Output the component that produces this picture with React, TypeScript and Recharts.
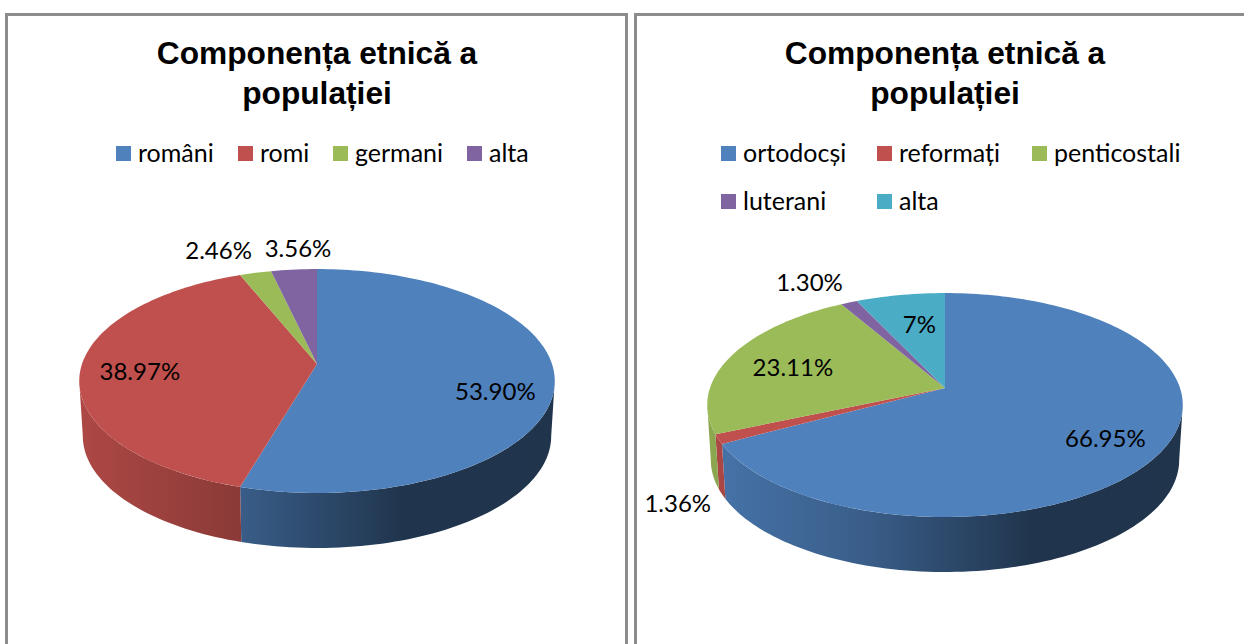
import React from "react";
import { PieChart, Pie, Legend } from "recharts";

const titleLines = ["Componența etnică a", "populației"];

const etnicNames = ["români", "romi", "germani", "alta"];
const etnicValues = [53.9, 38.97, 2.46, 3.56];
const etnicLabels = ["53.90%", "38.97%", "2.46%", "3.56%"];
const etnicColors = ["#4f81bd", "#c0504d", "#9bbb59", "#8064a2"];

const religieNames = ["ortodocși", "reformați", "penticostali", "luterani", "alta"];
const religieValues = [66.95, 1.36, 23.11, 1.3, 7];
const religieLabels = ["66.95%", "1.36%", "23.11%", "1.30%", "7%"];
const religieColors = ["#4f81bd", "#c0504d", "#9bbb59", "#8064a2", "#4bacc6"];

// pie look: perspective tilt of the disc
const RADIUS = 235;
const SQUASH = 0.4655;
const TILT = 0.152;
const DEPTH = 55;
const WALL_TAPER = 0.985;
const RAD = Math.PI / 180;

// recharts angle -> point on the tilted disc
const project = (cx: number, cy: number, r: number, angle: number, f = 1) => {
  const u = Math.cos(angle * RAD) * f;
  const v = Math.sin(angle * RAD) * f;
  const w = 1 + TILT * v;
  return { x: cx + (r * u) / w, y: cy - (r * SQUASH * v) / w };
};

const arcPoints = (cx: number, cy: number, r: number, from: number, to: number) => {
  const steps = Math.max(2, Math.ceil(Math.abs(from - to) / 1.5));
  const pts = [];
  for (let i = 0; i <= steps; i++) pts.push(project(cx, cy, r, from + ((to - from) * i) / steps));
  return pts;
};

const shade = (hex: string, k: number) => {
  const n = parseInt(hex.slice(1), 16);
  const c = [n >> 16, (n >> 8) & 255, n & 255].map((x) => Math.round(x * k));
  return `rgb(${c[0]},${c[1]},${c[2]})`;
};

// side wall is only visible on the front part of the rim
const FRONT_RIGHT = -Math.asin(TILT) / RAD;
const FRONT_LEFT = -180 - FRONT_RIGHT;

const Slice3D = (props: any) => {
  const { cx, cy, outerRadius, startAngle, endAngle, fill, index, chartId } = props;
  const top = arcPoints(cx, cy, outerRadius, startAngle, endAngle);
  const topPath =
    `M${cx},${cy} ` + top.map((p) => `L${p.x},${p.y}`).join(" ") + " Z";

  const a1 = Math.min(startAngle, FRONT_RIGHT);
  const a2 = Math.max(endAngle, FRONT_LEFT);
  let wall = null;
  if (a1 > a2) {
    const rim = arcPoints(cx, cy, outerRadius, a1, a2);
    const d =
      rim.map((p, i) => `${i ? "L" : "M"}${p.x},${p.y}`).join(" ") +
      " " +
      rim
        .slice()
        .reverse()
        .map((p) => `L${cx + (p.x - cx) * WALL_TAPER},${p.y + DEPTH}`)
        .join(" ") +
      " Z";
    const id = `wall-${chartId}-${index}`;
    wall = (
      <>
        <linearGradient
          id={id}
          gradientUnits="userSpaceOnUse"
          x1={cx - outerRadius * 1.01}
          x2={cx + outerRadius * 1.01}
          y1={0}
          y2={0}
        >
          <stop offset="0" stopColor={shade(fill, 0.9)} />
          <stop offset="0.34" stopColor={shade(fill, 0.72)} />
          <stop offset="0.68" stopColor={shade(fill, 0.41)} />
          <stop offset="1" stopColor={shade(fill, 0.4)} />
        </linearGradient>
        <path d={d} fill={`url(#${id})`} />
      </>
    );
  }
  return (
    <g>
      {wall}
      <path d={topPath} fill={fill} />
    </g>
  );
};

const LegendRows = ({ payload, columns }: any) => (
  <div style={{ display: "flex", flexWrap: "wrap", width: columns.reduce((a: number, b: number) => a + b, 0) }}>
    {(payload || []).map((item: any, i: number) => (
      <div
        key={item.value}
        style={{ width: columns[i % columns.length], height: 48, display: "flex", alignItems: "center" }}
      >
        <span style={{ width: 15, height: 15, background: item.color, marginRight: 7, flex: "none" }} />
        <span
          style={{
            fontFamily: "Lato",
            fontSize: 25,
            color: "#000",
            lineHeight: "48px",
            whiteSpace: "nowrap",
            position: "relative",
            top: -1,
          }}
        >
          {item.value}
        </span>
      </div>
    ))}
  </div>
);

interface PanelProps {
  id: string;
  left: number;
  width: number;
  names: string[];
  values: number[];
  labels: string[];
  colors: string[];
  pieX: number;
  pieY: number;
  legendX: number;
  columns: number[];
  labelRadius: number[];
  labelShift: number[][];
}

const Panel = ({ id, left, width, names, values, labels, colors, pieX, pieY, legendX, columns, labelRadius, labelShift }: PanelProps) => {
  const rows = names.map((name, i) => ({ name, value: values[i], fill: colors[i] }));

  const renderLabel = (p: any) => {
    const pos = project(p.cx, p.cy, p.outerRadius, p.midAngle, labelRadius[p.index]);
    return (
      <text
        x={pos.x + labelShift[p.index][0]}
        y={pos.y + labelShift[p.index][1]}
        textAnchor="middle"
        dominantBaseline="central"
        fontFamily="Lato"
        fontSize={24}
        fill="#000"
      >
        {labels[p.index]}
      </text>
    );
  };

  return (
    <div
      style={{
        position: "absolute",
        left,
        top: 13,
        width,
        height: 700,
        boxSizing: "border-box",
        border: "3px solid #8c8c8c",
        background: "#fff",
      }}
    >
      <div
        style={{
          position: "absolute",
          left: pieX - 320,
          top: 17,
          width: 640,
          textAlign: "center",
          fontFamily: "Liberation Sans",
          fontWeight: 700,
          fontSize: 31.7,
          lineHeight: "40px",
          color: "#000",
        }}
      >
        {titleLines.map((t) => (
          <div key={t}>{t}</div>
        ))}
      </div>
      <PieChart width={width - 6} height={640} margin={{ top: 0, right: 0, bottom: 0, left: 0 }}>
        <Legend
          verticalAlign="top"
          align="left"
          itemSorter={null}
          wrapperStyle={{ left: legendX, top: 113, width: "auto" }}
          content={(p: any) => <LegendRows payload={p.payload} columns={columns} />}
        />
        <Pie
          data={rows}
          dataKey="value"
          nameKey="name"
          cx={pieX}
          cy={pieY}
          outerRadius={RADIUS}
          startAngle={90}
          endAngle={-270}
          paddingAngle={0}
          stroke="none"
          isAnimationActive={false}
          labelLine={false}
          label={renderLabel}
          shape={(p: any) => <Slice3D {...p} chartId={id} />}
        />
      </PieChart>
    </div>
  );
};

export default function App() {
  return (
    <div style={{ position: "fixed", left: 0, top: 0, width: 1244, height: 644, overflow: "hidden", background: "#fff" }}>
      <Panel
        id="etnic"
        left={5}
        width={623}
        names={etnicNames}
        values={etnicValues}
        labels={etnicLabels}
        colors={etnicColors}
        pieX={309}
        pieY={300}
        legendX={108}
        columns={[122, 95, 134, 70]}
        labelRadius={[0.7, 0.7, 1.15, 1.15]}
        labelShift={[[13, 16], [-12, 3], [-29, -12], [7, -10]]}
      />
      <Panel
        id="religie"
        left={634}
        width={640}
        names={religieNames}
        values={religieValues}
        labels={religieLabels}
        colors={religieColors}
        pieX={308}
        pieY={276}
        legendX={84}
        columns={[156, 155, 160]}
        labelRadius={[0.7, 1.15, 0.7, 1.15, 0.7]}
        labelShift={[[11, 8], [-4, 55], [-1, 2], [-27, -10], [7, 3]]}
      />
    </div>
  );
}
